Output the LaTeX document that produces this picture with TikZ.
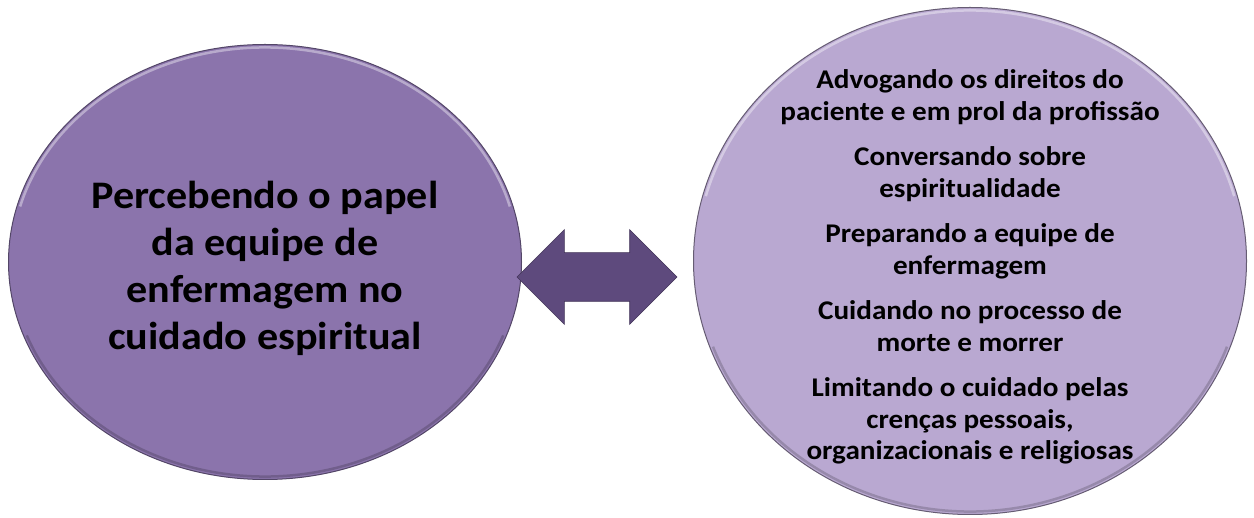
\documentclass[tikz,border=0pt]{standalone}
\usepackage{fontspec}
\setmainfont{Carlito}[FakeStretch=1.08]
\usepackage{xcolor}
\usepackage{tikz}
\usetikzlibrary{shapes.geometric}
\usetikzlibrary{shapes.arrows}
\usetikzlibrary{positioning}
\definecolor{leftfill}{HTML}{8B74AC}
\definecolor{rightfill}{HTML}{B9A8D1}
\definecolor{arrowfill}{HTML}{5E4A7D}
\tikzset{
	main node/.style={ellipse,inner sep=0pt},
	big text/.style={align=center,font=\fontsize{39}{47}\selectfont\bfseries},
	small text/.style={align=center,font=\fontsize{27}{31.5}\selectfont\bfseries},
	block arrow/.style={double arrow,fill=arrowfill,draw=arrowfill!70!black,line width=0.6pt,
		inner xsep=0pt,inner ysep=24pt,minimum height=160pt,
		double arrow head extend=23pt,double arrow tip angle=90},
	shine/.style={line width=2.5pt,opacity=0.6},
	shade edge/.style={line width=2.5pt,opacity=0.3}
}
\begin{document}
\begin{tikzpicture}[x=1pt,y=-1pt]
	\useasboundingbox (0,0) rectangle (1254,518);
	% the two discs
	\node [main node,fill=leftfill,draw=leftfill!60!black,line width=1pt,
		minimum width=513pt,minimum height=435pt] (1) at (265,262) {};
	\node [main node,fill=rightfill,draw=rightfill!55!black,line width=1pt,
		minimum width=553pt,minimum height=507pt] (2) at (970,261) {};
	% bevel light and dark edges
	\draw [shine,leftfill!35!white]
		(1.center) ++(165:253.5pt and 214.5pt) arc (165:15:253.5pt and 214.5pt);
	\draw [shade edge,leftfill!40!black]
		(1.center) ++(200:253.5pt and 214.5pt) arc (200:340:253.5pt and 214.5pt);
	\draw [shine,rightfill!35!white]
		(2.center) ++(165:273.5pt and 250.5pt) arc (165:15:273.5pt and 250.5pt);
	\draw [shade edge,rightfill!40!black]
		(2.center) ++(200:273.5pt and 250.5pt) arc (200:340:273.5pt and 250.5pt);
	% arrow in between
	\node [block arrow] (3) at (597,277) {};
	% texts
	\node [big text] (4) at ([yshift=-6pt]1.center)
		{Percebendo o papel\\da equipe de\\enfermagem no\\cuidado espiritual};
	\node [small text] (5) at ([yshift=-6pt]2.center)
		{Advogando os direitos do\\paciente e em prol da profissão\\[14pt]
		 Conversando sobre\\espiritualidade\\[14pt]
		 Preparando a equipe de\\enfermagem\\[14pt]
		 Cuidando no processo de\\morte e morrer\\[14pt]
		 Limitando o cuidado pelas\\crenças pessoais,\\organizacionais e religiosas};
\end{tikzpicture}
\end{document}
